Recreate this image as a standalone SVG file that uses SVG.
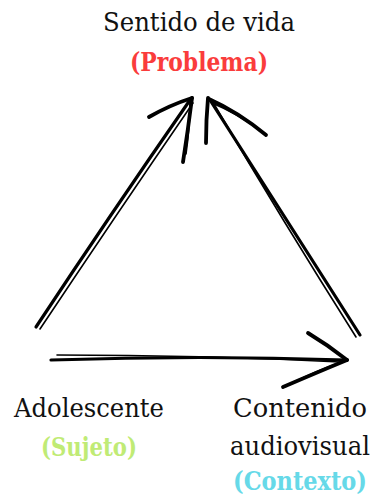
<svg xmlns="http://www.w3.org/2000/svg" width="375" height="500" viewBox="0 0 375 500">
<style>
text{font-family:"DejaVu Serif","Liberation Serif",serif;font-size:26.5px;fill:#111;text-anchor:middle}
.b{font-weight:bold}
.s{fill:none;stroke:#000;stroke-linecap:round;stroke-linejoin:round}
.w{stroke-width:3.2}
.h{stroke-width:3.8}
.n{stroke-width:1.6}
</style>
<rect width="375" height="500" fill="#fff"/>
<g id="connectors">
  <g id="arrow-left">
    <path class="s w" d="M36 327 Q110 215 190 100"/>
    <path class="s n" d="M40 329 Q114 218 193 103"/>
    <path class="s h" d="M149 117 Q170 105 192 98"/>
    <path class="s h" d="M183 162 Q188 130 192 98"/>
    <path class="s n" d="M186 154 Q190 126 190 102"/>
  </g>
  <g id="arrow-right">
    <path class="s w" d="M360 335 Q285 218 210 100"/>
    <path class="s n" d="M356 337 Q282 220 214 104"/>
    <path class="s h" d="M206 143 Q206 120 208 98"/>
    <path class="s h" d="M266 135 Q238 112 209 99"/>
    <path class="s n" d="M260 130 Q236 113 212 103"/>
  </g>
  <g id="arrow-bottom">
    <path class="s w" d="M51 360 Q200 355 347 360"/>
    <path class="s n" d="M57 355 Q200 355 340 362"/>
    <path class="s h" d="M308 333 Q328 345 347 360"/>
    <path class="s h" d="M283 387 Q318 372 347 360"/>
    <path class="s n" d="M290 384 Q318 370 342 362"/>
  </g>
</g>
<g id="node-sentido">
  <text x="199" y="31" textLength="192" lengthAdjust="spacingAndGlyphs">Sentido de vida</text>
  <text class="b" x="199" y="71" textLength="138" lengthAdjust="spacingAndGlyphs" style="fill:#fa3c3c">(Problema)</text>
</g>
<g id="node-adolescente">
  <text x="89" y="417" textLength="150" lengthAdjust="spacingAndGlyphs">Adolescente</text>
  <text class="b" x="89" y="456" textLength="96" lengthAdjust="spacingAndGlyphs" style="fill:#c0eb75">(Sujeto)</text>
</g>
<g id="node-contenido">
  <text x="300" y="417" textLength="134" lengthAdjust="spacingAndGlyphs">Contenido</text>
  <text x="300" y="455" textLength="140" lengthAdjust="spacingAndGlyphs">audiovisual</text>
  <text class="b" x="300" y="490" textLength="134" lengthAdjust="spacingAndGlyphs" style="fill:#66d9e8">(Contexto)</text>
</g>
</svg>
